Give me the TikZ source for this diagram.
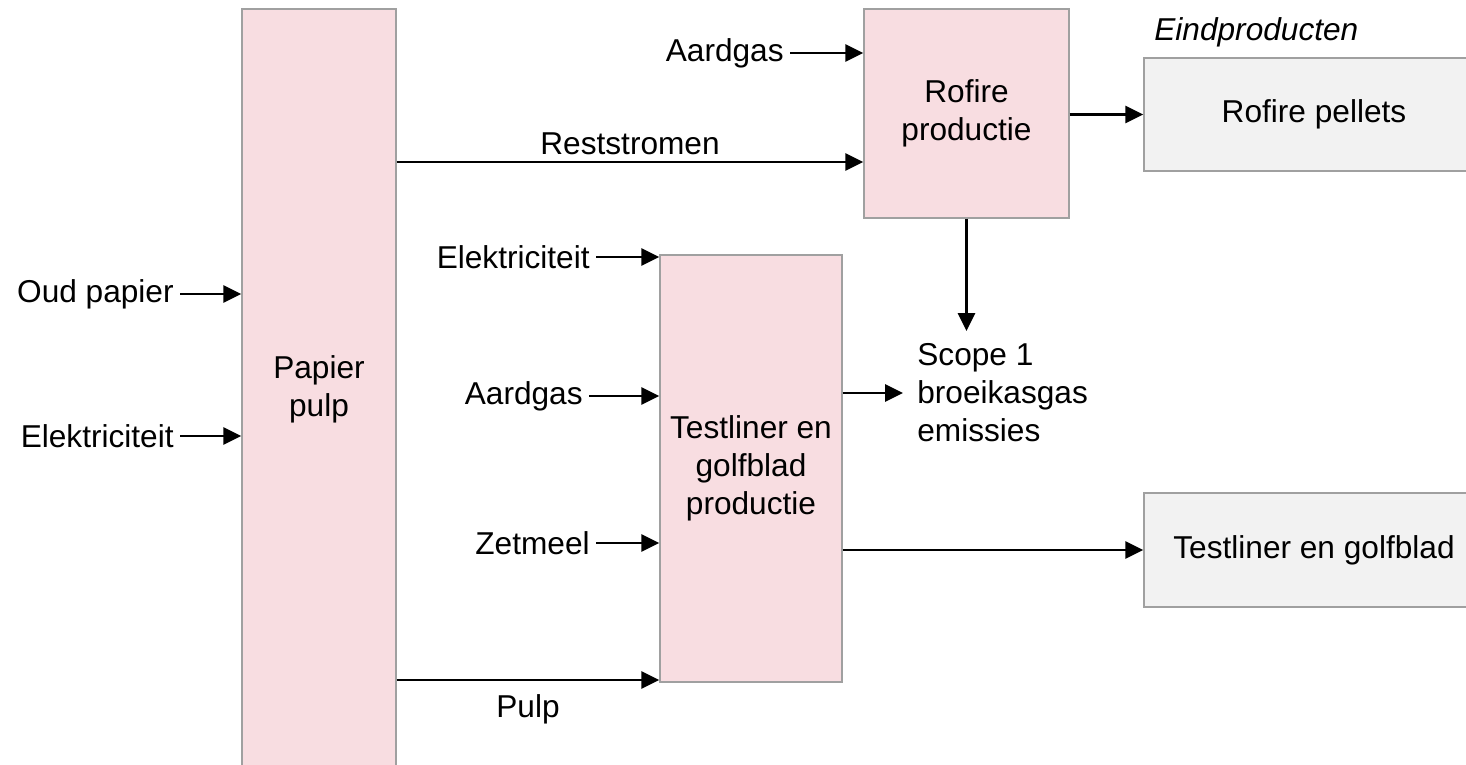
\documentclass[tikz,border=0pt]{standalone}
\usepackage{fontspec}
\setmainfont{Liberation Sans}
\usepackage{xcolor}
\usetikzlibrary{positioning, arrows.meta}
\definecolor{procpink}{RGB}{248,221,225}
\definecolor{prodgrey}{RGB}{242,242,242}
\definecolor{edgegrey}{RGB}{160,160,160}
\tikzset{
  proc/.style={rectangle, draw=edgegrey, line width=0.8pt, fill=procpink,
               align=center, inner sep=0pt},
  prod/.style={rectangle, draw=edgegrey, line width=0.8pt, fill=prodgrey,
               align=center, inner sep=0pt},
  lbl/.style={inner xsep=0.12cm, inner ysep=0pt, font=\fontsize{18}{21.6}\selectfont},
  arr/.style={-{Triangle[length=3.6mm, width=3.4mm]}, line width=1.6pt},
}

\begin{document}
\begin{tikzpicture}[x=0.02cm, y=-0.02cm, font=\fontsize{18}{21.6}\selectfont]
  \clip (0,0) rectangle (1466,764);
  \fill[white] (0,0) rectangle (1466,764);
  % processes
  \node[proc, minimum width=3.08cm, minimum height=15.22cm] (pp) at (319,389.5) {Papier\\pulp};
  \node[proc, minimum width=4.10cm, minimum height=4.18cm] (rof) at (966.5,113.5) {Rofire\\productie};
  \node[proc, minimum width=3.64cm, minimum height=8.54cm] (tl) at (751,468.5) {Testliner en\\golfblad\\productie};
  % end products
  \node[prod, minimum width=6.8cm, minimum height=2.26cm] (pel) at (1314,114.5) {Rofire pellets};
  \node[prod, minimum width=6.8cm, minimum height=2.28cm] (tlg) at (1314,550) {Testliner en golfblad};
  \node[lbl, anchor=west, font=\fontsize{18}{21.6}\selectfont\itshape] (eind) at (1148,32) {Eindproducten};
  % inputs
  \node[lbl, anchor=east] (oud) at (180,294) {Oud papier};
  \node[lbl, anchor=east] (elek1) at (180,436) {Elektriciteit};
  \node[lbl, anchor=east] (aard1) at (790,53) {Aardgas};
  \node[lbl, anchor=east] (elek2) at (596,257) {Elektriciteit};
  \node[lbl, anchor=east] (aard2) at (589,396) {Aardgas};
  \node[lbl, anchor=east] (zet) at (596,543) {Zetmeel};
  \node[lbl, anchor=west, align=left, inner xsep=0.28cm] (scope) at (903,393) {Scope 1\\broeikasgas\\emissies};
  % flows
  \draw[arr] (oud.east) -- (oud.east -| pp.west);
  \draw[arr] (elek1.east) -- (elek1.east -| pp.west);
  \draw[arr] (aard1.east) -- (aard1.east -| rof.west);
  \draw[arr] (elek2.east) -- (elek2.east -| tl.west);
  \draw[arr] (aard2.east) -- (aard2.east -| tl.west);
  \draw[arr] (zet.east) -- (zet.east -| tl.west);
  \draw[arr] (pp.east |- 0,162) -- node[above]{Reststromen} (rof.west |- 0,162);
  \draw[arr] (pp.east |- 0,680) -- node[below, yshift=-4pt]{Pulp} (tl.west |- 0,680);
  \draw[arr] (rof.east |- pel.west) -- (pel.west);
  \draw[arr] (rof.south) -- (rof.south |- 0,331);
  \draw[arr] (tl.east |- scope.west) -- (scope.west);
  \draw[arr] (tl.east |- tlg.west) -- (tlg.west);
\end{tikzpicture}
\end{document}
